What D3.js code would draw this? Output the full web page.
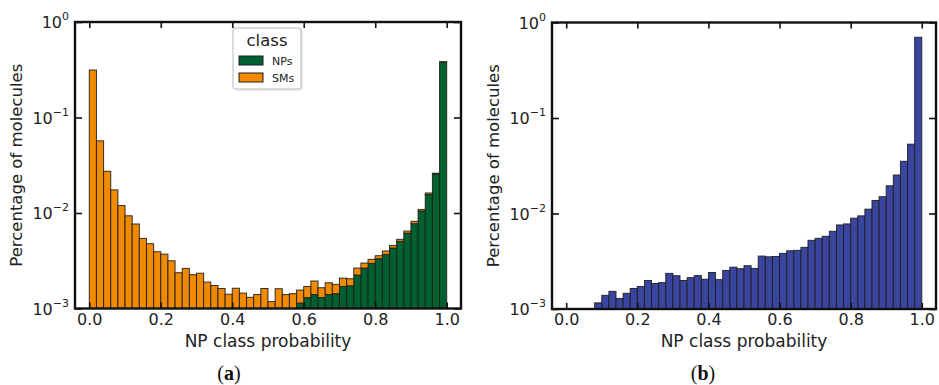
<!DOCTYPE html>
<html>
<head>
<meta charset="utf-8">
<script src="https://cdn.jsdelivr.net/npm/d3@7"></script>
<style>
  body { margin: 0; background: #fff; }
  svg { display: block; }
</style>
</head>
<body>
<svg id="chart" width="939" height="385"></svg>
<script>
// ---------------- DATA ----------------
// left edges of the 50 histogram bins (width 0.02)
const binStarts = [0.00,0.02,0.04,0.06,0.08,0.10,0.12,0.14,0.16,0.18,
                   0.20,0.22,0.24,0.26,0.28,0.30,0.32,0.34,0.36,0.38,
                   0.40,0.42,0.44,0.46,0.48,0.50,0.52,0.54,0.56,0.58,
                   0.60,0.62,0.64,0.66,0.68,0.70,0.72,0.74,0.76,0.78,
                   0.80,0.82,0.84,0.86,0.88,0.90,0.92,0.94,0.96,0.98];
const binWidth = 0.02;

// panel (a): stacked histogram, NPs at bottom, SMs on top
const npValues = [0.00005,0.00005,0.00005,0.00005,0.00005,0.00005,0.00005,0.00005,0.00005,0.00005,
                  0.00005,0.00005,0.00005,0.00005,0.00005,0.00005,0.00005,0.00005,0.00005,0.00005,
                  0.0001,0.00012,0.00015,0.0002,0.0003,0.0004,0.0005,0.0006,0.0008,0.00114,
                  0.00130,0.00140,0.00130,0.00140,0.00143,0.00170,0.00173,0.00224,0.00265,0.00297,
                  0.00332,0.00368,0.00430,0.00505,0.00616,0.00773,0.0105,0.0156,0.0256,0.380];
const smValues = [0.314,0.0569,0.0273,0.0174,0.0119,0.0093,0.00762,0.00537,0.00472,0.00388,
                  0.00366,0.00311,0.00232,0.00258,0.00221,0.00229,0.00184,0.00169,0.00157,0.00136,
                  0.00153,0.00133,0.00116,0.0012,0.00132,0.00078,0.00111,0.0008,0.00063,0.00042,
                  0.00040,0.00054,0.00035,0.00046,0.00036,0.00038,0.00032,0.00041,0.00034,0.00030,
                  0.00025,0.00032,0.00028,0.00025,0.00031,0.00045,0.0004,0.0006,0.0005,0.004];

// panel (b): single histogram
const allValues = [0,0,0,0,0.00116,0.00139,0.00153,0.00129,0.00146,0.00164,
                   0.00172,0.00199,0.00185,0.00189,0.00236,0.00223,0.00199,0.00213,0.00224,0.00205,
                   0.00241,0.00203,0.00253,0.00274,0.00264,0.00284,0.00266,0.00358,0.00352,0.00355,
                   0.00382,0.00407,0.00411,0.00442,0.00524,0.00550,0.00577,0.00651,0.00759,0.00778,
                   0.00893,0.00945,0.0111,0.0137,0.0150,0.0195,0.0253,0.0352,0.0532,0.700];

const seriesNames = ["NPs", "SMs"];
const xTicks = [0.0, 0.2, 0.4, 0.6, 0.8, 1.0];
const xTickLabels = ["0.0", "0.2", "0.4", "0.6", "0.8", "1.0"];
const yTicks = [1e-3, 1e-2, 1e-1, 1];
const yTickExponents = ["\u22123", "\u22122", "\u22121", "0"];
const xLabel = "NP class probability";
const yLabel = "Percentage of molecules";
const legendTitle = "class";
const captions = ["a", "b"];

// ---------------- STYLE ----------------
const colNP = "#00602f", colSM = "#f28a00", colAll = "#3a45a0";
const font = "DejaVu Sans";
const textCol = "#222";

const svg = d3.select("#chart");

function drawPanel(cfg) {
  const x = d3.scaleLinear().domain([-0.04, 1.04]).range([cfg.left, cfg.right]);
  const y = d3.scaleLog().domain([1e-3, 1]).range([cfg.bottom, cfg.top]).clamp(true);
  const g = svg.append("g");

  // bars
  cfg.layers.forEach(layer => {
    g.append("g").selectAll("rect")
      .data(binStarts.map((b, i) => ({b, lo: layer.base ? layer.base[i] : 0, v: layer.values[i]}))
              .filter(d => d.v > 0))
      .join("rect")
      .attr("x", d => x(d.b))
      .attr("width", d => x(d.b + binWidth) - x(d.b))
      .attr("y", d => y(d.lo + d.v))
      .attr("height", d => (d.lo > 0 ? y(d.lo) : cfg.bottom) - y(d.lo + d.v))
      .attr("fill", layer.color)
      .attr("stroke", "#1e1e1e")
      .attr("stroke-opacity", 0.9)
      .attr("stroke-width", 1);
  });

  // ticks (inward) on all four sides
  const tickStyle = sel => {
    sel.select(".domain").remove();
    sel.selectAll(".tick line").attr("stroke", "#111").attr("stroke-width", 1.6);
  };
  g.append("g").attr("transform", `translate(0,${cfg.bottom})`)
    .call(d3.axisBottom(x).tickValues(xTicks).tickSize(-6).tickPadding(5)
          .tickFormat((d, i) => xTickLabels[i]))
    .call(tickStyle)
    .call(s => s.selectAll("text").attr("font-family", font).attr("font-size", 16).attr("fill", textCol));
  g.append("g").attr("transform", `translate(0,${cfg.top})`)
    .call(d3.axisTop(x).tickValues(xTicks).tickSize(-6).tickFormat(""))
    .call(tickStyle);
  g.append("g").attr("transform", `translate(${cfg.left},0)`)
    .call(d3.axisLeft(y).tickValues(yTicks).tickSize(-7).tickFormat(""))
    .call(tickStyle);
  g.append("g").attr("transform", `translate(${cfg.right},0)`)
    .call(d3.axisRight(y).tickValues(yTicks).tickSize(-7).tickFormat(""))
    .call(tickStyle);

  // y tick labels 10^n
  yTicks.forEach((t, i) => {
    const tx = g.append("text")
      .attr("x", cfg.left - 6).attr("y", y(t) + 6)
      .attr("text-anchor", "end")
      .attr("font-family", font).attr("font-size", 16).attr("fill", textCol);
    tx.append("tspan").text("10");
    tx.append("tspan").attr("dy", -8).attr("font-size", 11).text(yTickExponents[i]);
  });

  // frame
  g.append("rect")
    .attr("x", cfg.left).attr("y", cfg.top)
    .attr("width", cfg.right - cfg.left).attr("height", cfg.bottom - cfg.top)
    .attr("fill", "none").attr("stroke", "#111").attr("stroke-width", 2.4);

  // axis labels
  g.append("text")
    .attr("x", (cfg.left + cfg.right) / 2).attr("y", 347)
    .attr("text-anchor", "middle")
    .attr("font-family", font).attr("font-size", 17).attr("fill", textCol)
    .text(xLabel);
  g.append("text")
    .attr("transform", `translate(${cfg.left - 53},${(cfg.top + cfg.bottom) / 2}) rotate(-90)`)
    .attr("text-anchor", "middle")
    .attr("font-family", font).attr("font-size", 16.5).attr("fill", textCol)
    .text(yLabel);

  // caption
  const cap = g.append("text")
    .attr("x", cfg.captionX).attr("y", 380)
    .attr("text-anchor", "middle")
    .attr("font-family", "Liberation Serif").attr("font-size", 20).attr("fill", "#111");
  cap.append("tspan").text("(");
  cap.append("tspan").attr("font-weight", "bold").text(cfg.caption);
  cap.append("tspan").text(")");

  return {x, y, g};
}

// panel (a)
const pa = drawPanel({
  left: 75, right: 461, top: 22, bottom: 308.5, captionX: 229, caption: captions[0],
  layers: [
    {values: npValues, color: colNP},
    {values: smValues, base: npValues, color: colSM}
  ]
});

// legend for panel (a)
const lg = pa.g.append("g");
lg.append("rect").attr("x", 235).attr("y", 30).attr("width", 68).attr("height", 61)
  .attr("rx", 3).attr("fill", "#000").attr("opacity", 0.08);
lg.append("rect").attr("x", 233).attr("y", 28).attr("width", 68).attr("height", 61)
  .attr("rx", 3).attr("fill", "#fff").attr("stroke", "#cfcfcf").attr("stroke-width", 1.5);
lg.append("text").attr("x", 267).attr("y", 46).attr("text-anchor", "middle")
  .attr("font-family", font).attr("font-size", 16.5).attr("fill", textCol).text(legendTitle);
[colNP, colSM].forEach((c, i) => {
  lg.append("rect").attr("x", 239).attr("y", 56 + i * 17).attr("width", 24).attr("height", 9)
    .attr("fill", c).attr("stroke", "#1e1e1e").attr("stroke-width", 1);
  lg.append("text").attr("x", 272).attr("y", 64.5 + i * 17)
    .attr("font-family", font).attr("font-size", 11).attr("fill", textCol).text(seriesNames[i]);
});

// panel (b)
drawPanel({
  left: 552, right: 936, top: 22.5, bottom: 309, captionX: 703, caption: captions[1],
  layers: [
    {values: allValues, color: colAll}
  ]
});
</script>
</body>
</html>
